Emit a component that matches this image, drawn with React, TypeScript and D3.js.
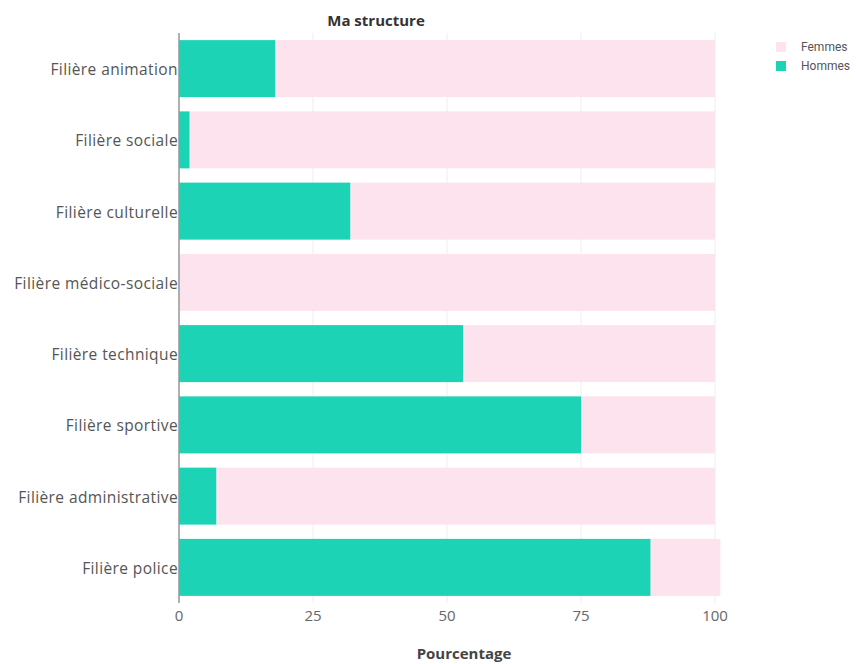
import React from "react";
import * as d3 from "d3";

const categories = [
  "Filière animation",
  "Filière sociale",
  "Filière culturelle",
  "Filière médico-sociale",
  "Filière technique",
  "Filière sportive",
  "Filière administrative",
  "Filière police",
];
const hommes = [18, 2, 32, 0, 53, 75, 7, 88];
const femmes = [82, 98, 68, 100, 47, 25, 93, 13];
const xTicks = [0, 25, 50, 75, 100];
const seriesNames = ["Femmes", "Hommes"];
const seriesColors = ["#fde3ed", "#1dd3b5"];

const W = 856;
const H = 664;
const left = 179;
const right = 715;
const top = 33;
const bottom = 603;
const font = "'Open Sans', 'DejaVu Sans', sans-serif";
const legendFont = "Roboto, 'Open Sans', sans-serif";

export default function App() {
  const x = d3.scaleLinear().domain([0, 100]).range([left, right]);
  const y = d3
    .scaleBand<string>()
    .domain(categories)
    .range([top, bottom])
    .paddingInner(0.2)
    .paddingOuter(0.1);

  return (
    <svg width={W} height={H} style={{ position: "absolute", left: 0, top: 0 }}>
      <text x={376} y={26} textAnchor="middle" fontFamily={font} fontWeight="bold" fontSize={15} fill="#333">
        Ma structure
      </text>
      {xTicks.map((t) => (
        <line key={"g" + t} x1={x(t)} x2={x(t)} y1={top} y2={bottom} stroke="#eeeeee" strokeWidth={1} />
      ))}
      {categories.map((c, i) => {
        const y0 = y(c)!;
        const h = y.bandwidth();
        return (
          <g key={c}>
            <rect x={x(0)} y={y0} width={x(hommes[i]) - x(0)} height={h} fill={seriesColors[1]} />
            <rect
              x={x(hommes[i])}
              y={y0}
              width={x(hommes[i] + femmes[i]) - x(hommes[i])}
              height={h}
              fill={seriesColors[0]}
            />
            <text
              x={left - 1}
              y={y0 + h / 2 + 1}
              dy="0.35em"
              textAnchor="end"
              fontFamily={font}
              fontSize={15.5}
              letterSpacing={0.4}
              fill="#555"
            >
              {c}
            </text>
          </g>
        );
      })}
      <line x1={left} x2={left} y1={top} y2={bottom} stroke="#999" strokeWidth={1.5} />
      {xTicks.map((t) => (
        <text key={"t" + t} x={x(t)} y={621} textAnchor="middle" fontFamily={font} fontSize={15} fill="#666">
          {t}
        </text>
      ))}
      <text x={464} y={659} textAnchor="middle" fontFamily={font} fontWeight="bold" fontSize={15} fill="#444">
        Pourcentage
      </text>
      {seriesNames.map((s, i) => (
        <g key={s}>
          <rect x={776} y={42 + i * 19} width={10} height={10} fill={seriesColors[i]} />
          <text x={801} y={47 + i * 19} dy="0.35em" fontFamily={legendFont} fontSize={12} fill="#555">
            {s}
          </text>
        </g>
      ))}
    </svg>
  );
}
